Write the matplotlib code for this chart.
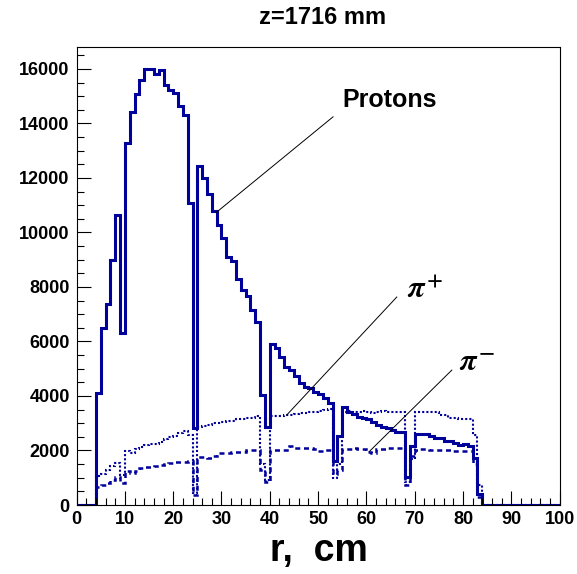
import numpy as np
import matplotlib
matplotlib.use("Agg")
import matplotlib.pyplot as plt

plt.rcParams['font.family'] = ['Liberation Sans', 'DejaVu Sans']
plt.rcParams['font.weight'] = 'bold'
plt.rcParams['mathtext.fontset'] = 'stix'

# 1 cm bins, 0..100 cm
edges = np.arange(0, 101)

protons = [0, 0, 0, 0, 4100, 6500, 7380, 8990, 10640, 6300,
           13270, 14430, 15070, 15600, 16000, 16000, 15800, 15960, 15410, 15230,
           15130, 14640, 14310, 11080, 2830, 12450, 11990, 11420, 10780, 10260,
           9790, 9110, 8950, 8280, 7890, 7680, 7160, 6730, 4040, 2850,
           5910, 5770, 5440, 5070, 4950, 4730, 4470, 4340, 4280, 4160,
           4060, 3920, 3730, 1630, 2530, 3590, 3420, 3340, 3240, 3180,
           3150, 3060, 2940, 2850, 2810, 2750, 2690, 2690, 1040, 2170,
           2600, 2600, 2600, 2530, 2450, 2450, 2360, 2360, 2290, 2200,
           2240, 2170, 1710, 400] + [0] * 16

pi_plus = [0, 0, 0, 0, 1060, 1140, 1280, 1430, 1550, 1100,
           1990, 1920, 2040, 2140, 2200, 2230, 2240, 2320, 2410, 2480,
           2530, 2630, 2720, 2560, 450, 2850, 2900, 2950, 3000, 3000,
           3050, 3100, 3100, 3150, 3150, 3200, 3200, 3250, 1500, 900,
           3250, 3270, 3280, 3300, 3320, 3350, 3360, 3380, 3400, 3420,
           3460, 3490, 3520, 1000, 1500, 3420, 3450, 3400, 3420, 3450,
           3400, 3380, 3400, 3450, 3420, 3400, 3430, 3400, 850, 1700,
           3410, 3420, 3400, 3410, 3400, 3300, 3300, 3180, 3180, 3150,
           3150, 3140, 2570, 730] + [0] * 16

pi_minus = [0, 0, 0, 0, 670, 730, 820, 920, 1020, 800,
            1260, 1190, 1260, 1350, 1380, 1380, 1430, 1470, 1500, 1530,
            1590, 1580, 1590, 1600, 350, 1770, 1770, 1740, 1800, 1900,
            1900, 1920, 1940, 1960, 1960, 2000, 2000, 2020, 1300, 850,
            2020, 2020, 2000, 2020, 2170, 2090, 2080, 2090, 2100, 2060,
            1990, 2000, 2010, 1150, 1300, 2050, 2050, 2100, 2060, 2050,
            1950, 1900, 2050, 2050, 2100, 2080, 2100, 2090, 750, 1800,
            2020, 2040, 2040, 2030, 2020, 2020, 2000, 2010, 1990, 1980,
            1990, 1980, 1500, 300] + [0] * 16

col = '#00009a'

fig = plt.figure(figsize=(5.77, 5.74), dpi=100)
ax = fig.add_axes([0.1328, 0.1202, 0.8369, 0.7978])

ax.stairs(protons, edges, color=col, lw=2.2)
ax.stairs(pi_plus, edges, color=col, lw=1.5, linestyle=(0, (1, 1)))
ax.stairs(pi_minus, edges, color=col, lw=1.8, linestyle=(0, (2, 1.5)))

ax.set_xlim(0, 100)
ax.set_ylim(0, 16800)
ax.set_xticks(np.arange(0, 101, 10))
ax.set_xticks(np.arange(0, 101, 2), minor=True)
ax.set_yticks(np.arange(0, 16001, 2000))
ax.set_yticks(np.arange(0, 16801, 500), minor=True)
ax.tick_params(which='both', direction='in', top=False, right=False,
               labelsize=13, width=0.8)
ax.tick_params(which='major', length=10)
ax.tick_params(which='minor', length=5)
ax.tick_params(axis='y', pad=5)
ax.tick_params(axis='x', pad=4)
for lab in ax.get_xticklabels() + ax.get_yticklabels():
    lab.set_fontweight('bold')
for s in ax.spines.values():
    s.set_linewidth(0.8)

# labels with pointer lines
ax.plot([53.1, 28.9], [14240, 10730], color='black', lw=0.7)
ax.text(55.1, 14860, 'Protons', fontsize=18, fontweight='bold', va='center')
ax.plot([66.3, 43.5], [7630, 3300], color='black', lw=0.7)
ax.text(68.4, 7600, r'$\pi^{+}$', fontsize=22, va='baseline')
ax.plot([77.7, 60.6], [4950, 1960], color='black', lw=0.7)
ax.text(79.2, 4900, r'$\pi^{-}$', fontsize=22, va='baseline')

fig.text(323 / 577, 1 - 17 / 574, 'z=1716 mm', ha='center', va='center',
         fontsize=17, fontweight='bold')
fig.text(319 / 577, 1 - 551 / 574, 'r,  cm', ha='center', va='center',
         fontsize=27, fontweight='bold')

fig.savefig('out.png', dpi=100)
